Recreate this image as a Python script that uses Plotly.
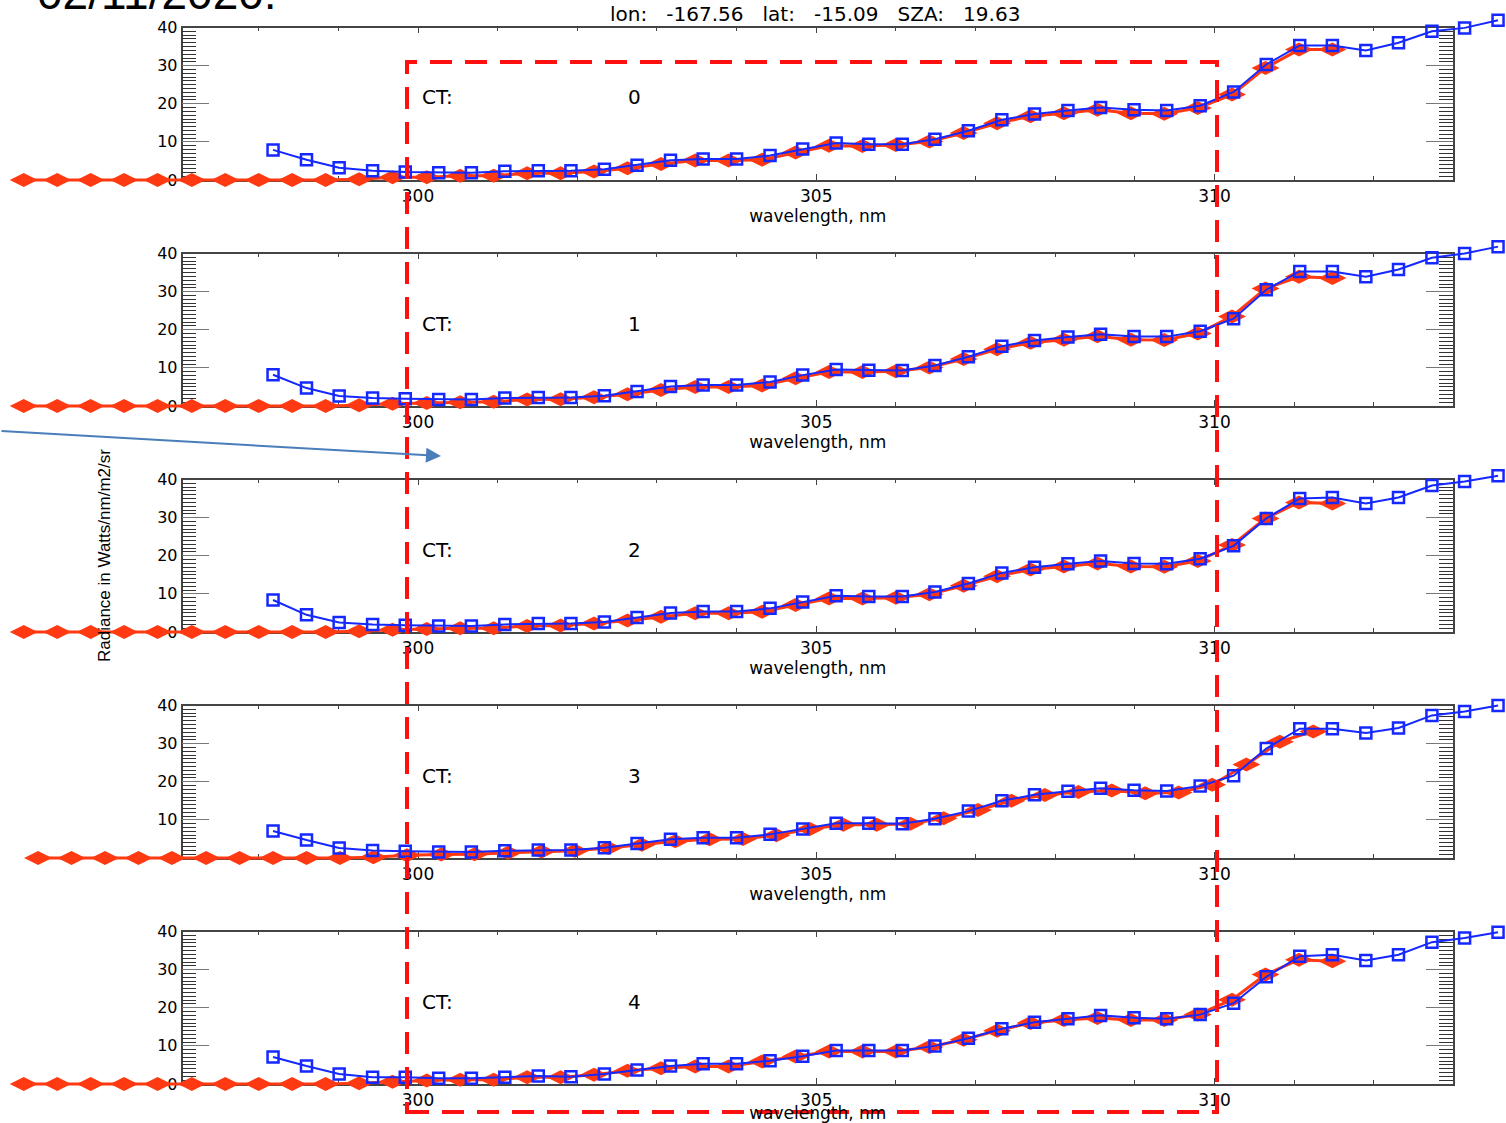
import plotly.graph_objects as go

# ---------------- data ----------------
ct_labels = ["0", "1", "2", "3", "4"]

# wavelength grid of the red (diamond) series, nm
red_wl = [295.05, 295.47, 295.89, 296.31, 296.73, 297.16, 297.58, 298.00, 298.42, 298.84,
          299.26, 299.68, 300.11, 300.53, 300.95, 301.37, 301.79, 302.21, 302.63, 303.05,
          303.48, 303.90, 304.32, 304.74, 305.16, 305.58, 306.00, 306.42, 306.85, 307.27,
          307.69, 308.11, 308.53, 308.95, 309.37, 309.79, 310.22, 310.64, 311.06, 311.48]
# slightly shifted wavelength grid of the red series in panel CT 3
red_wl_ct3 = [295.23, 295.65, 296.07, 296.49, 296.91, 297.34, 297.76, 298.18, 298.60, 299.02,
              299.44, 299.86, 300.29, 300.71, 301.13, 301.55, 301.97, 302.39, 302.81, 303.23,
              303.66, 304.08, 304.50, 304.92, 305.34, 305.76, 306.18, 306.60, 307.03, 307.45,
              307.87, 308.29, 308.71, 309.13, 309.55, 309.97, 310.40, 310.82, 311.24]
# wavelength grid of the blue (square) series, nm
blue_wl = [298.18, 298.60, 299.01, 299.43, 299.84, 300.26, 300.67, 301.09, 301.51, 301.92,
           302.34, 302.75, 303.17, 303.58, 304.00, 304.42, 304.83, 305.25, 305.66, 306.08,
           306.49, 306.91, 307.33, 307.74, 308.16, 308.57, 308.99, 309.40, 309.82, 310.24,
           310.65, 311.07, 311.48, 311.90, 312.31, 312.73, 313.14, 313.56]

red_ct0 = [0, 0, 0, 0, 0, 0, 0, 0, 0, 0, 0.2, 0.7, 0.7, 1.1, 1.1, 1.8, 1.8, 2.2, 3.1, 4.2,
           5.1, 5.1, 5.3, 7.2, 9.0, 8.9, 9.2, 10.1, 12.3, 14.9, 16.7, 17.5, 18.4, 17.5, 17.4,
           18.9, 22.4, 29.4, 34.2, 34.2]
red_ct1 = [0, 0, 0, 0, 0, 0, 0, 0, 0, 0, 0.2, 0.6, 0.8, 1.0, 1.1, 1.7, 1.8, 2.3, 3.1, 4.2,
           5.0, 5.0, 5.4, 7.3, 8.9, 8.9, 9.1, 10.1, 12.3, 14.9, 16.6, 17.4, 18.3, 17.4, 17.3,
           19.0, 23.5, 30.8, 33.9, 33.6]
red_ct2 = [0, 0, 0, 0, 0, 0, 0, 0, 0, 0, 0.2, 0.6, 0.8, 1.0, 1.0, 1.6, 1.7, 2.2, 3.0, 4.0,
           4.9, 4.9, 5.3, 7.1, 8.8, 8.8, 9.0, 9.9, 12.1, 14.6, 16.4, 17.2, 18.0, 17.2, 17.1,
           18.6, 22.8, 29.8, 34.0, 33.7]
red_ct3 = [0, 0, 0, 0, 0, 0, 0, 0, 0, 0, 0.2, 0.7, 0.9, 1.0, 1.4, 1.7, 1.9, 2.6, 3.5, 4.4,
           4.9, 5.0, 6.0, 7.6, 8.7, 8.7, 9.0, 10.4, 12.6, 15.0, 16.5, 17.3, 17.7, 17.0, 17.2,
           19.2, 24.5, 30.5, 33.2]
red_ct4 = [0, 0, 0, 0, 0, 0, 0, 0, 0, 0, 0.2, 0.6, 0.9, 1.1, 1.1, 1.8, 1.8, 2.4, 3.5, 4.1,
           4.6, 4.6, 5.9, 7.2, 8.5, 8.5, 8.5, 9.7, 11.6, 14.0, 16.0, 16.8, 17.3, 16.8, 16.8,
           18.2, 22.1, 28.7, 32.6, 32.2]

blue_ct0 = [7.9, 5.3, 3.2, 2.4, 2.1, 1.9, 1.9, 2.3, 2.4, 2.4, 2.8, 3.9, 5.2, 5.5, 5.5, 6.4,
            8.1, 9.7, 9.4, 9.4, 10.7, 12.9, 15.8, 17.3, 18.2, 19.0, 18.4, 18.2, 19.5, 23.1,
            30.3, 35.3, 35.3, 34.0, 36.0, 39.0, 39.9, 41.9]
blue_ct1 = [8.2, 4.7, 2.6, 2.1, 1.9, 1.7, 1.7, 2.1, 2.2, 2.2, 2.7, 3.8, 5.1, 5.5, 5.5, 6.3,
            8.1, 9.6, 9.4, 9.3, 10.6, 12.9, 15.7, 17.2, 18.1, 18.8, 18.2, 18.2, 19.6, 22.9,
            30.5, 35.3, 35.3, 33.9, 35.8, 38.9, 40.0, 41.8]
blue_ct2 = [8.4, 4.5, 2.5, 2.0, 1.8, 1.6, 1.6, 2.0, 2.2, 2.2, 2.6, 3.8, 5.0, 5.4, 5.4, 6.2,
            7.9, 9.5, 9.3, 9.3, 10.5, 12.7, 15.5, 17.0, 17.9, 18.6, 18.0, 17.9, 19.2, 22.6,
            29.8, 35.0, 35.3, 33.7, 35.3, 38.4, 39.5, 41.0]
blue_ct3 = [7.1, 4.7, 2.6, 2.0, 1.8, 1.6, 1.6, 1.9, 2.1, 2.1, 2.7, 3.8, 4.9, 5.3, 5.3, 6.2,
            7.6, 9.1, 9.1, 9.0, 10.3, 12.3, 15.0, 16.6, 17.5, 18.3, 17.8, 17.6, 18.9, 21.6,
            28.7, 33.9, 33.9, 32.8, 34.1, 37.4, 38.4, 40.0]
blue_ct4 = [7.1, 4.7, 2.6, 1.8, 1.8, 1.5, 1.5, 1.8, 2.1, 1.9, 2.6, 3.7, 4.7, 5.3, 5.3, 6.1,
            7.3, 8.8, 8.8, 8.8, 10.0, 12.0, 14.5, 16.2, 17.1, 18.0, 17.4, 17.1, 18.2, 21.2,
            28.1, 33.5, 33.9, 32.4, 33.9, 37.2, 38.3, 39.8]

red_x = [red_wl, red_wl, red_wl, red_wl_ct3, red_wl]
red_y = [red_ct0, red_ct1, red_ct2, red_ct3, red_ct4]
blue_y = [blue_ct0, blue_ct1, blue_ct2, blue_ct3, blue_ct4]

x_ticks = [300, 305, 310]
y_ticks = [0, 10, 20, 30, 40]

title_text = "lon:   -167.56   lat:   -15.09   SZA:   19.63"
date_text = "02/11/2020:"
ylabel_text = "Radiance in Watts/nm/m2/sr"
xlabel_text = "wavelength, nm"

# ---------------- layout helpers ----------------
W, H = 1506, 1123


def fx(X):
    return X / W


def fy(Y):
    return 1 - Y / H


RED = "#FF3A12"
BLUE = "#1428FF"
AX = "#444444"
FONT = "DejaVu Sans"

PX_PER_NM = 79.65
X300 = 418.0
FRAME_L, FRAME_R = 182.5, 1453.0


def nm(X):
    return 300 + (X - X300) / PX_PER_NM


fig = go.Figure()
layout = dict(
    width=W, height=H,
    margin=dict(l=0, r=0, t=0, b=0, pad=0),
    paper_bgcolor="white", plot_bgcolor="rgba(0,0,0,0)",
    showlegend=False, template="none",
    font=dict(family=FONT, color="black"),
)

annotations = []
UNIT = 152.5 / 40.0

for k in range(5):
    top = 27.5 + 226 * k
    bot = 180.0 + 226 * k
    fa = k + 1      # frame axes
    da = k + 6      # data axes
    # empty trace to create frame subplot
    fig.add_trace(go.Scatter(x=[], y=[], xaxis=f"x{fa}", yaxis=f"y{fa}",
                             hoverinfo="skip", showlegend=False))
    layout[f"xaxis{fa}"] = dict(
        domain=[fx(FRAME_L), fx(FRAME_R)], anchor=f"y{fa}",
        range=[nm(FRAME_L), nm(FRAME_R)],
        tickmode="array", tickvals=x_ticks, ticktext=[str(v) for v in x_ticks],
        ticks="inside", ticklen=6, tickwidth=1.2, tickcolor=AX,
        mirror="ticks", showline=True, linecolor=AX, linewidth=1.5,
        minor=dict(tickmode="linear", tick0=0, dtick=1, ticks="inside",
                   ticklen=4, tickcolor=AX, tickwidth=1.2, showgrid=False),
        showgrid=False, zeroline=False, automargin=False,
        tickfont=dict(family=FONT, size=17, color="black"),
        title=dict(text=xlabel_text, standoff=0,
                   font=dict(family=FONT, size=17, color="black")),
        fixedrange=True,
    )
    layout[f"yaxis{fa}"] = dict(
        domain=[fy(bot), fy(top)], anchor=f"x{fa}",
        range=[0, 40],
        tickmode="array", tickvals=y_ticks, ticktext=[str(v) for v in y_ticks],
        ticks="inside", ticklen=27, tickwidth=1.2, tickcolor="#777777",
        mirror="ticks", showline=True, linecolor=AX, linewidth=1.5,
        minor=dict(tickmode="linear", tick0=0, dtick=1, ticks="inside",
                   ticklen=14, tickcolor="#333333", tickwidth=1.2, showgrid=False),
        showgrid=False, zeroline=False, automargin=False,
        tickfont=dict(family=FONT, size=16, color="black"),
        fixedrange=True,
    )
    # data axes: wider domains so lines can run past the frame (as in IDL noclip)
    layout[f"xaxis{da}"] = dict(
        domain=[0, 1], anchor=f"y{da}", range=[nm(0), nm(W)],
        visible=False, fixedrange=True,
    )
    layout[f"yaxis{da}"] = dict(
        domain=[fy(bot + 6 * UNIT), fy(bot - 45 * UNIT)], anchor=f"x{da}",
        range=[-6, 45], visible=False, fixedrange=True,
    )

    fig.add_trace(go.Scatter(
        x=red_x[k], y=red_y[k], mode="lines+markers",
        line=dict(color=RED, width=3),
        marker=dict(symbol="diamond-wide", size=20, color=RED,
                    line=dict(width=0)),
        xaxis=f"x{da}", yaxis=f"y{da}", cliponaxis=False, hoverinfo="skip"))
    fig.add_trace(go.Scatter(
        x=blue_wl, y=blue_y[k], mode="lines+markers",
        line=dict(color=BLUE, width=2),
        marker=dict(symbol="square-open", size=11, color=BLUE,
                    line=dict(width=2.5, color=BLUE)),
        xaxis=f"x{da}", yaxis=f"y{da}", cliponaxis=False, hoverinfo="skip"))

    annotations.append(dict(x=fx(420), y=fy(top + 70), xref="paper", yref="paper",
                            text="CT:", showarrow=False, xanchor="left", yanchor="middle",
                            font=dict(family=FONT, size=20, color="black")))
    annotations.append(dict(x=fx(626), y=fy(top + 70), xref="paper", yref="paper",
                            text=ct_labels[k], showarrow=False, xanchor="left",
                            yanchor="middle",
                            font=dict(family=FONT, size=20, color="black")))

annotations.append(dict(x=fx(815), y=fy(14), xref="paper", yref="paper",
                        text=title_text, showarrow=False, xanchor="center",
                        yanchor="middle", font=dict(family=FONT, size=20, color="black")))
annotations.append(dict(x=fx(35), y=fy(-7), xref="paper", yref="paper",
                        text=date_text, showarrow=False, xanchor="left",
                        yanchor="middle",
                        font=dict(family="Liberation Sans, Arial", size=46, color="black")))
annotations.append(dict(x=fx(104), y=fy(555), xref="paper", yref="paper",
                        text=ylabel_text, showarrow=False, textangle=-90,
                        xanchor="center", yanchor="middle",
                        font=dict(family="Liberation Sans Narrow, Liberation Sans, Arial",
                                  size=17, color="black")))
annotations.append(dict(x=fx(441), y=fy(456), xref="paper", yref="paper",
                        text="", showarrow=True, ax=-441, ay=-25,
                        arrowcolor="#4A7EBB", arrowwidth=2, arrowhead=2,
                        arrowsize=1.5, standoff=0))

layout["annotations"] = annotations
layout["shapes"] = [dict(type="rect", xref="paper", yref="paper",
                         x0=fx(407), x1=fx(1217), y0=fy(1112), y1=fy(62),
                         line=dict(color="#FF1010", width=4, dash="22px,13px"),
                         layer="above")]

fig.update_layout(**layout)
fig.write_html("out.html",
               config={"displayModeBar": False},
               post_script="document.body.style.margin='0px';"
                           "document.body.style.overflow='hidden';")
